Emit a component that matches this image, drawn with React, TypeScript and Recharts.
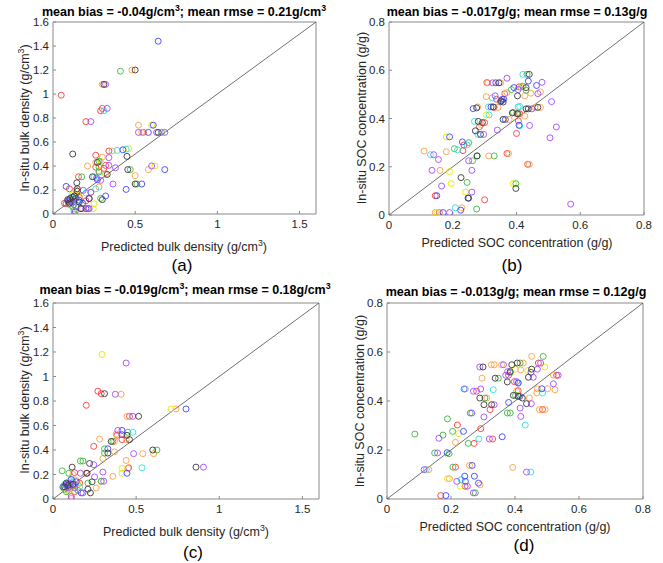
import React from 'react';
import { ScatterChart, Scatter, XAxis, YAxis } from 'recharts';

// point = [predicted, in-situ, group]
type Pt = [number, number, string];

const groupKeys = ['r', 'o', 'y', 'g', 'c', 'b', 'p', 'k'];
const groupColors: Record<string, string> = {
  r: '#ff3b3b',
  o: '#ff9f40',
  y: '#e6e600',
  g: '#3cb83c',
  c: '#30e0e0',
  b: '#4046ff',
  p: '#a24cff',
  k: '#3a3a3a',
};

const bdTicks = [0, 0.2, 0.4, 0.6, 0.8, 1, 1.2, 1.4, 1.6];
const bdXTicks = [0, 0.5, 1, 1.5];
const socTicks = [0, 0.2, 0.4, 0.6, 0.8];

const bdA: Pt[] = [
  [0.05, 0.99, 'r'], [0.29, 0.86, 'r'], [0.3, 0.88, 'r'], [0.2, 0.77, 'r'], [0.55, 0.68, 'r'], [0.34, 0.525, 'r'],
  [0.26, 0.49, 'r'], [0.26, 0.39, 'r'], [0.32, 0.405, 'r'], [0.31, 0.38, 'r'], [0.155, 0.31, 'r'], [0.1, 0.21, 'r'],
  [0.093, 0.1, 'r'], [0.08, 0.086, 'r'], [0.16, 0.14, 'r'], [0.12, 0.12, 'r'], [0.21, 0.045, 'r'], [0.2, 0.11, 'r'], [0.07, 0.09, 'r'],
  [0.48, 1.2, 'o'], [0.3, 1.08, 'o'], [0.52, 0.74, 'o'], [0.54, 0.68, 'o'], [0.36, 0.525, 'o'], [0.3, 0.475, 'o'],
  [0.21, 0.4, 'o'], [0.26, 0.43, 'o'], [0.32, 0.33, 'o'], [0.58, 0.37, 'o'], [0.5, 0.32, 'o'], [0.28, 0.225, 'o'],
  [0.23, 0.183, 'o'], [0.18, 0.045, 'o'], [0.13, 0.15, 'o'], [0.28, 0.36, 'o'], [0.14, 0.2, 'o'],
  [0.6, 0.74, 'y'], [0.46, 0.545, 'y'], [0.62, 0.4, 'y'], [0.25, 0.085, 'y'], [0.245, 0.044, 'y'], [0.15, 0.16, 'y'], [0.29, 0.44, 'y'],
  [0.12, 0.16, 'y'],
  [0.41, 1.19, 'g'], [0.66, 0.68, 'g'], [0.28, 0.39, 'g'], [0.28, 0.35, 'g'], [0.47, 0.37, 'g'], [0.51, 0.25, 'g'],
  [0.175, 0.31, 'g'], [0.29, 0.13, 'g'], [0.13, 0.0, 'g'], [0.128, 0.03, 'g'], [0.128, 0.08, 'g'], [0.28, 0.44, 'g'], [0.12, 0.06, 'g'],
  [0.1, 0.08, 'g'],
  [0.31, 0.86, 'c'], [0.39, 0.53, 'c'], [0.445, 0.54, 'c'], [0.25, 0.31, 'c'], [0.26, 0.21, 'c'], [0.2, 0.175, 'c'],
  [0.15, 0.1, 'c'], [0.13, 0.13, 'c'], [0.11, 0.14, 'c'],
  [0.64, 1.44, 'b'], [0.425, 0.535, 'b'], [0.58, 0.68, 'b'], [0.61, 0.74, 'b'], [0.68, 0.37, 'b'], [0.54, 0.25, 'b'],
  [0.27, 0.285, 'b'], [0.445, 0.205, 'b'], [0.08, 0.23, 'b'], [0.32, 0.15, 'b'], [0.16, 0.114, 'b'], [0.2, 0.045, 'b'],
  [0.14, 0.13, 'b'], [0.11, 0.1, 'b'], [0.18, 0.09, 'b'], [0.09, 0.11, 'b'],
  [0.32, 1.08, 'p'], [0.33, 0.88, 'p'], [0.23, 0.77, 'p'], [0.52, 0.68, 'p'], [0.63, 0.68, 'p'], [0.68, 0.68, 'p'],
  [0.34, 0.47, 'p'], [0.34, 0.405, 'p'], [0.38, 0.385, 'p'], [0.6, 0.4, 'p'], [0.365, 0.25, 'p'], [0.265, 0.3, 'p'],
  [0.29, 0.28, 'p'], [0.184, 0.197, 'p'], [0.23, 0.18, 'p'], [0.22, 0.045, 'p'], [0.135, 0.02, 'p'], [0.215, 0.045, 'p'],
  [0.1, 0.11, 'p'], [0.17, 0.045, 'p'], [0.12, 0.1, 'p'], [0.22, 0.13, 'p'], [0.14, 0.06, 'p'],
  [0.5, 1.2, 'k'], [0.31, 1.08, 'k'], [0.64, 0.68, 'k'], [0.12, 0.5, 'k'], [0.45, 0.48, 'k'], [0.27, 0.43, 'k'],
  [0.33, 0.33, 'k'], [0.455, 0.37, 'k'], [0.5, 0.25, 'k'], [0.24, 0.31, 'k'], [0.145, 0.26, 'k'], [0.148, 0.21, 'k'],
  [0.148, 0.19, 'k'], [0.3, 0.12, 'k'], [0.103, 0.128, 'k'], [0.17, 0.045, 'k'], [0.22, 0.128, 'k'], [0.09, 0.12, 'k'], [0.13, 0.15, 'k'],
  [0.1, 0.09, 'k'], [0.12, 0.14, 'k'], [0.16, 0.1, 'k'],
];

const socB: Pt[] = [
  [0.307, 0.549, 'r'], [0.363, 0.503, 'r'], [0.408, 0.531, 'r'], [0.337, 0.48, 'r'], [0.33, 0.446, 'r'], [0.406, 0.39, 'r'],
  [0.3, 0.383, 'r'], [0.284, 0.366, 'r'], [0.4, 0.338, 'r'], [0.232, 0.267, 'r'], [0.235, 0.29, 'r'], [0.37, 0.255, 'r'],
  [0.435, 0.21, 'r'], [0.145, 0.08, 'r'], [0.3, 0.063, 'r'], [0.158, 0.01, 'r'], [0.41, 0.42, 'r'],
  [0.31, 0.548, 'o'], [0.35, 0.548, 'o'], [0.414, 0.531, 'o'], [0.475, 0.51, 'o'], [0.37, 0.507, 'o'], [0.426, 0.494, 'o'],
  [0.305, 0.491, 'o'], [0.342, 0.446, 'o'], [0.278, 0.448, 'o'], [0.458, 0.446, 'o'], [0.475, 0.446, 'o'], [0.4, 0.42, 'o'],
  [0.426, 0.41, 'o'], [0.377, 0.396, 'o'], [0.29, 0.375, 'o'], [0.11, 0.265, 'o'], [0.18, 0.262, 'o'], [0.16, 0.185, 'o'],
  [0.313, 0.245, 'o'], [0.375, 0.255, 'o'], [0.44, 0.21, 'o'], [0.228, 0.03, 'o'], [0.145, 0.01, 'o'], [0.445, 0.505, 'o'],
  [0.305, 0.415, 'y'], [0.18, 0.324, 'y'], [0.19, 0.18, 'y'], [0.195, 0.13, 'y'], [0.24, 0.095, 'y'], [0.39, 0.13, 'y'], [0.15, 0.01, 'y'],
  [0.433, 0.583, 'g'], [0.384, 0.52, 'g'], [0.42, 0.534, 'g'], [0.43, 0.517, 'g'], [0.39, 0.425, 'g'], [0.25, 0.3, 'g'],
  [0.205, 0.275, 'g'], [0.262, 0.225, 'g'], [0.277, 0.245, 'g'], [0.33, 0.245, 'g'], [0.245, 0.135, 'g'], [0.398, 0.13, 'g'],
  [0.275, 0.025, 'g'], [0.405, 0.42, 'g'],
  [0.42, 0.583, 'c'], [0.324, 0.486, 'c'], [0.312, 0.448, 'c'], [0.405, 0.448, 'c'], [0.314, 0.415, 'c'], [0.268, 0.388, 'c'],
  [0.279, 0.334, 'c'], [0.215, 0.27, 'c'], [0.13, 0.25, 'c'], [0.245, 0.29, 'c'], [0.208, 0.03, 'c'], [0.41, 0.37, 'c'], [0.41, 0.45, 'c'],
  [0.437, 0.555, 'b'], [0.392, 0.528, 'b'], [0.335, 0.548, 'b'], [0.355, 0.479, 'b'], [0.36, 0.48, 'b'], [0.32, 0.448, 'b'],
  [0.264, 0.441, 'b'], [0.365, 0.396, 'b'], [0.408, 0.372, 'b'], [0.19, 0.324, 'b'], [0.23, 0.303, 'b'], [0.15, 0.08, 'b'],
  [0.25, 0.07, 'b'], [0.225, 0.02, 'b'], [0.17, 0.01, 'b'], [0.463, 0.537, 'b'], [0.35, 0.47, 'b'],
  [0.37, 0.567, 'p'], [0.325, 0.548, 'p'], [0.467, 0.503, 'p'], [0.333, 0.494, 'p'], [0.448, 0.44, 'p'], [0.441, 0.371, 'p'],
  [0.297, 0.334, 'p'], [0.34, 0.352, 'p'], [0.48, 0.55, 'p'], [0.51, 0.47, 'p'], [0.525, 0.365, 'p'], [0.505, 0.32, 'p'],
  [0.57, 0.045, 'p'], [0.14, 0.25, 'p'], [0.135, 0.185, 'p'], [0.155, 0.23, 'p'], [0.165, 0.12, 'p'], [0.26, 0.185, 'p'],
  [0.26, 0.095, 'p'], [0.25, 0.225, 'p'], [0.19, 0.01, 'p'], [0.405, 0.52, 'p'],
  [0.44, 0.583, 'k'], [0.345, 0.548, 'k'], [0.43, 0.528, 'k'], [0.403, 0.494, 'k'], [0.352, 0.473, 'k'], [0.358, 0.468, 'k'],
  [0.327, 0.448, 'k'], [0.275, 0.444, 'k'], [0.43, 0.44, 'k'], [0.437, 0.44, 'k'], [0.467, 0.446, 'k'], [0.387, 0.423, 'k'],
  [0.358, 0.396, 'k'], [0.28, 0.388, 'k'], [0.293, 0.383, 'k'], [0.271, 0.349, 'k'], [0.287, 0.334, 'k'], [0.276, 0.245, 'k'],
  [0.226, 0.155, 'k'], [0.248, 0.07, 'k'], [0.398, 0.11, 'k'], [0.403, 0.42, 'k'],
];

const bdC: Pt[] = [
  [0.27, 0.88, 'r'], [0.29, 0.86, 'r'], [0.2, 0.765, 'r'], [0.46, 0.675, 'r'], [0.385, 0.52, 'r'], [0.415, 0.485, 'r'],
  [0.245, 0.43, 'r'], [0.455, 0.255, 'r'], [0.13, 0.215, 'r'], [0.2, 0.21, 'r'], [0.11, 0.005, 'r'], [0.1, 0.1, 'r'], [0.16, 0.13, 'r'],
  [0.13, 0.06, 'r'],
  [0.41, 0.855, 'o'], [0.74, 0.735, 'o'], [0.445, 0.675, 'o'], [0.38, 0.53, 'o'], [0.44, 0.485, 'o'], [0.28, 0.49, 'o'],
  [0.37, 0.47, 'o'], [0.37, 0.385, 'o'], [0.3, 0.33, 'o'], [0.605, 0.37, 'o'], [0.54, 0.37, 'o'], [0.44, 0.315, 'o'],
  [0.45, 0.25, 'o'], [0.36, 0.185, 'o'], [0.26, 0.09, 'o'], [0.14, 0.15, 'o'], [0.12, 0.2, 'o'], [0.29, 0.145, 'o'], [0.09, 0.07, 'o'],
  [0.295, 1.18, 'y'], [0.71, 0.735, 'y'], [0.415, 0.25, 'y'], [0.415, 0.21, 'y'], [0.06, 0.09, 'y'], [0.15, 0.12, 'y'], [0.1, 0.05, 'y'],
  [0.45, 0.545, 'g'], [0.36, 0.47, 'g'], [0.31, 0.41, 'g'], [0.31, 0.375, 'g'], [0.625, 0.4, 'g'], [0.29, 0.145, 'g'],
  [0.21, 0.13, 'g'], [0.165, 0.31, 'g'], [0.18, 0.31, 'g'], [0.055, 0.23, 'g'], [0.095, 0.21, 'g'], [0.08, 0.06, 'g'], [0.12, 0.11, 'g'],
  [0.07, 0.08, 'g'], [0.15, 0.07, 'g'],
  [0.48, 0.545, 'c'], [0.535, 0.255, 'c'], [0.1, 0.15, 'c'], [0.16, 0.1, 'c'], [0.07, 0.12, 'c'], [0.12, 0.14, 'c'],
  [0.8, 0.735, 'b'], [0.415, 0.56, 'b'], [0.415, 0.525, 'b'], [0.33, 0.41, 'b'], [0.445, 0.21, 'b'], [0.17, 0.05, 'b'],
  [0.08, 0.12, 'b'], [0.14, 0.14, 'b'], [0.11, 0.16, 'b'], [0.06, 0.1, 'b'], [0.1, 0.12, 'b'],
  [0.44, 1.11, 'p'], [0.375, 0.855, 'p'], [0.48, 0.675, 'p'], [0.39, 0.56, 'p'], [0.485, 0.37, 'p'], [0.905, 0.26, 'p'],
  [0.3, 0.22, 'p'], [0.305, 0.145, 'p'], [0.25, 0.18, 'p'], [0.245, 0.28, 'p'], [0.165, 0.21, 'p'], [0.18, 0.05, 'p'],
  [0.11, 0.02, 'p'], [0.08, 0.11, 'p'], [0.13, 0.09, 'p'], [0.1, 0.13, 'p'], [0.09, 0.09, 'p'], [0.13, 0.12, 'p'],
  [0.31, 0.86, 'k'], [0.515, 0.675, 'k'], [0.445, 0.52, 'k'], [0.46, 0.485, 'k'], [0.35, 0.47, 'k'], [0.33, 0.375, 'k'],
  [0.6, 0.4, 'k'], [0.86, 0.26, 'k'], [0.235, 0.14, 'k'], [0.22, 0.29, 'k'], [0.115, 0.26, 'k'], [0.205, 0.21, 'k'],
  [0.21, 0.08, 'k'], [0.225, 0.05, 'k'], [0.09, 0.11, 'k'], [0.12, 0.12, 'k'], [0.07, 0.1, 'k'], [0.08, 0.13, 'k'],
];

const socD: Pt[] = [
  [0.473, 0.555, 'r'], [0.38, 0.505, 'r'], [0.398, 0.479, 'r'], [0.28, 0.44, 'r'], [0.322, 0.365, 'r'], [0.486, 0.365, 'r'],
  [0.22, 0.302, 'r'], [0.293, 0.287, 'r'], [0.33, 0.245, 'r'], [0.272, 0.227, 'r'], [0.214, 0.13, 'r'], [0.244, 0.052, 'r'],
  [0.168, 0.014, 'r'], [0.41, 0.442, 'r'], [0.53, 0.505, 'r'],
  [0.452, 0.582, 'o'], [0.326, 0.548, 'o'], [0.335, 0.548, 'o'], [0.358, 0.548, 'o'], [0.426, 0.555, 'o'], [0.418, 0.527, 'o'],
  [0.297, 0.493, 'o'], [0.52, 0.506, 'o'], [0.502, 0.45, 'o'], [0.47, 0.45, 'o'], [0.468, 0.433, 'o'], [0.525, 0.446, 'o'],
  [0.405, 0.442, 'o'], [0.445, 0.412, 'o'], [0.476, 0.365, 'o'], [0.494, 0.365, 'o'], [0.214, 0.231, 'o'], [0.258, 0.137, 'o'],
  [0.131, 0.12, 'o'], [0.195, 0.083, 'o'], [0.291, 0.058, 'o'], [0.393, 0.129, 'o'], [0.312, 0.412, 'o'],
  [0.493, 0.539, 'y'], [0.44, 0.525, 'y'], [0.224, 0.267, 'y'], [0.189, 0.083, 'y'], [0.229, 0.052, 'y'], [0.4, 0.53, 'y'],
  [0.488, 0.582, 'g'], [0.416, 0.555, 'g'], [0.348, 0.493, 'g'], [0.306, 0.412, 'g'], [0.26, 0.351, 'g'], [0.376, 0.351, 'g'],
  [0.385, 0.351, 'g'], [0.189, 0.327, 'g'], [0.205, 0.276, 'g'], [0.175, 0.261, 'g'], [0.087, 0.265, 'g'], [0.254, 0.227, 'g'],
  [0.149, 0.188, 'g'], [0.194, 0.185, 'g'], [0.206, 0.13, 'g'], [0.276, 0.025, 'g'], [0.385, 0.515, 'g'], [0.402, 0.423, 'g'],
  [0.332, 0.446, 'c'], [0.486, 0.433, 'c'], [0.432, 0.302, 'c'], [0.287, 0.245, 'c'], [0.232, 0.079, 'c'], [0.449, 0.11, 'c'],
  [0.245, 0.449, 'c'], [0.123, 0.12, 'c'], [0.41, 0.475, 'c'],
  [0.45, 0.517, 'b'], [0.41, 0.473, 'b'], [0.484, 0.45, 'b'], [0.38, 0.394, 'b'], [0.239, 0.276, 'b'], [0.36, 0.254, 'b'],
  [0.188, 0.189, 'b'], [0.266, 0.137, 'b'], [0.243, 0.093, 'b'], [0.245, 0.072, 'b'], [0.273, 0.093, 'b'], [0.286, 0.065, 'b'],
  [0.184, 0.014, 'b'], [0.415, 0.419, 'b'],
  [0.29, 0.539, 'p'], [0.364, 0.548, 'p'], [0.48, 0.555, 'p'], [0.47, 0.53, 'p'], [0.377, 0.52, 'p'], [0.371, 0.505, 'p'],
  [0.457, 0.497, 'p'], [0.52, 0.47, 'p'], [0.535, 0.505, 'p'], [0.241, 0.449, 'p'], [0.27, 0.44, 'p'], [0.293, 0.449, 'p'],
  [0.451, 0.389, 'p'], [0.335, 0.385, 'p'], [0.416, 0.371, 'p'], [0.418, 0.337, 'p'], [0.303, 0.335, 'p'], [0.32, 0.245, 'p'],
  [0.162, 0.248, 'p'], [0.158, 0.188, 'p'], [0.116, 0.12, 'p'], [0.218, 0.072, 'p'], [0.251, 0.052, 'p'], [0.27, 0.025, 'p'],
  [0.436, 0.11, 'p'], [0.265, 0.351, 'p'], [0.405, 0.479, 'p'],
  [0.3, 0.539, 'k'], [0.39, 0.548, 'k'], [0.407, 0.555, 'k'], [0.452, 0.53, 'k'], [0.338, 0.493, 'k'], [0.442, 0.497, 'k'],
  [0.376, 0.478, 'k'], [0.395, 0.423, 'k'], [0.41, 0.419, 'k'], [0.423, 0.412, 'k'], [0.436, 0.389, 'k'], [0.29, 0.412, 'k'],
  [0.303, 0.385, 'k'], [0.327, 0.385, 'k'], [0.385, 0.52, 'k'],
];

const fmt = (v: number) => String(v);
const axisColor = '#8a8a8a';
const font = 'Liberation Sans, Arial, sans-serif';
const tickText = { fill: '#262626', fontSize: 11.5, fontFamily: font };

const Ring = (color: string) => (props: any) => (
  <circle cx={props.cx} cy={props.cy} r={3} fill="none" stroke={color} strokeWidth={0.9} />
);

// axis band sizes; chart margins below subtract them so the plot box lands where it should
const YW = 30;
const XH = 20;
const SIDE = 4;

interface PanelProps {
  data: Pt[];
  max: number;
  xTicks: number[];
  yTicks: number[];
  left: number;
  top: number;
  width: number;
  height: number;
  box: { top: number; right: number; bottom: number; left: number };
}

const Panel: React.FC<PanelProps> = ({ data, max, xTicks, yTicks, left, top, width, height, box }) => {
  const diag = [{ x: 0, y: 0 }, { x: max, y: max }];
  const margin = {
    top: box.top - SIDE,
    right: width - box.right - SIDE,
    bottom: height - box.bottom - XH,
    left: box.left - YW,
  };
  return (
    <div style={{ position: 'absolute', left, top }}>
      <ScatterChart width={width} height={height} margin={margin}>
        <XAxis xAxisId={0} type="number" dataKey="x" domain={[0, max]} ticks={xTicks} tickFormatter={fmt}
          height={XH} tickSize={-3} tickMargin={9} stroke={axisColor} tick={tickText} allowDataOverflow />
        <XAxis xAxisId="top" orientation="top" type="number" dataKey="x" domain={[0, max]} ticks={xTicks}
          height={SIDE} tickSize={-3} stroke={axisColor} tick={false} allowDataOverflow />
        <YAxis yAxisId={0} type="number" dataKey="y" domain={[0, max]} ticks={yTicks} tickFormatter={fmt}
          width={YW} tickSize={-3} tickMargin={7} stroke={axisColor} tick={tickText} allowDataOverflow />
        <YAxis yAxisId="right" orientation="right" type="number" dataKey="y" domain={[0, max]} ticks={yTicks}
          width={SIDE} tickSize={-3} stroke={axisColor} tick={false} allowDataOverflow />
        <Scatter xAxisId="top" yAxisId="right" data={diag} line={{ stroke: '#4d4d4d', strokeWidth: 0.8 }}
          shape={() => <g />} isAnimationActive={false} />
        {groupKeys.map((g) => (
          <Scatter key={g} xAxisId={0} yAxisId={0}
            data={data.filter((p) => p[2] === g).map((p) => ({ x: p[0], y: p[1] }))}
            shape={Ring(groupColors[g])} isAnimationActive={false} />
        ))}
      </ScatterChart>
    </div>
  );
};

const Txt: React.FC<{ x: number; y: number; size?: number; bold?: boolean; rotate?: boolean; color?: string; children: React.ReactNode }> = ({
  x, y, size = 12.5, bold, rotate, color = '#262626', children,
}) => (
  <div style={{
    position: 'absolute', left: x, top: y, whiteSpace: 'nowrap', fontFamily: font, fontSize: size,
    fontWeight: bold ? 'bold' : 'normal', color, lineHeight: 1,
    transform: `translate(-50%, -50%)${rotate ? ' rotate(-90deg)' : ''}`,
  }}>{children}</div>
);

const sup = (t: string) => <sup style={{ fontSize: '0.7em', lineHeight: 0 }}>{t}</sup>;

export default function App() {
  return (
    <div style={{ position: 'relative', width: 663, height: 563, background: '#fff', overflow: 'hidden' }}>
      <style>{`body{margin:0}`}</style>
      <Panel data={bdA} max={1.6} xTicks={bdXTicks} yTicks={bdTicks} left={0} top={0} width={330} height={280}
        box={{ top: 22, right: 316, bottom: 214, left: 53 }} />
      <Panel data={socB} max={0.8} xTicks={socTicks} yTicks={socTicks} left={330} top={0} width={333} height={280}
        box={{ top: 22, right: 314, bottom: 215, left: 59 }} />
      <Panel data={bdC} max={1.6} xTicks={bdXTicks} yTicks={bdTicks} left={0} top={280} width={330} height={283}
        box={{ top: 23, right: 319, bottom: 219, left: 53 }} />
      <Panel data={socD} max={0.8} xTicks={socTicks} yTicks={socTicks} left={330} top={280} width={333} height={283}
        box={{ top: 23, right: 313, bottom: 219, left: 57 }} />

      <Txt x={184} y={12} size={12.5} bold color="#000">mean bias = -0.04g/cm{sup('3')}; mean rmse = 0.21g/cm{sup('3')}</Txt>
      <Txt x={184} y={247}>Predicted bulk density (g/cm{sup('3')})</Txt>
      <Txt x={25} y={118} rotate>In-situ bulk density (g/cm{sup('3')})</Txt>
      <Txt x={182} y={265} size={17} color="#000">(a)</Txt>

      <Txt x={517} y={12} size={12.5} bold color="#000">mean bias = -0.017g/g; mean rmse = 0.13g/g</Txt>
      <Txt x={517} y={243}>Predicted SOC concentration (g/g)</Txt>
      <Txt x={362} y={118} rotate>In-situ SOC concentration (g/g)</Txt>
      <Txt x={512} y={265} size={17} color="#000">(b)</Txt>

      <Txt x={185} y={290} size={12.5} bold color="#000">mean bias = -0.019g/cm{sup('3')}; mean rmse = 0.18g/cm{sup('3')}</Txt>
      <Txt x={186} y={532}>Predicted bulk density (g/cm{sup('3')})</Txt>
      <Txt x={25} y={400} rotate>In-situ bulk density (g/cm{sup('3')})</Txt>
      <Txt x={193} y={552} size={17} color="#000">(c)</Txt>

      <Txt x={516} y={292} size={12.5} bold color="#000">mean bias = -0.013g/g; mean rmse = 0.12g/g</Txt>
      <Txt x={515} y={527}>Predicted SOC concentration (g/g)</Txt>
      <Txt x={360} y={401} rotate>In-situ SOC concentration (g/g)</Txt>
      <Txt x={524} y={545} size={17} color="#000">(d)</Txt>
    </div>
  );
}
